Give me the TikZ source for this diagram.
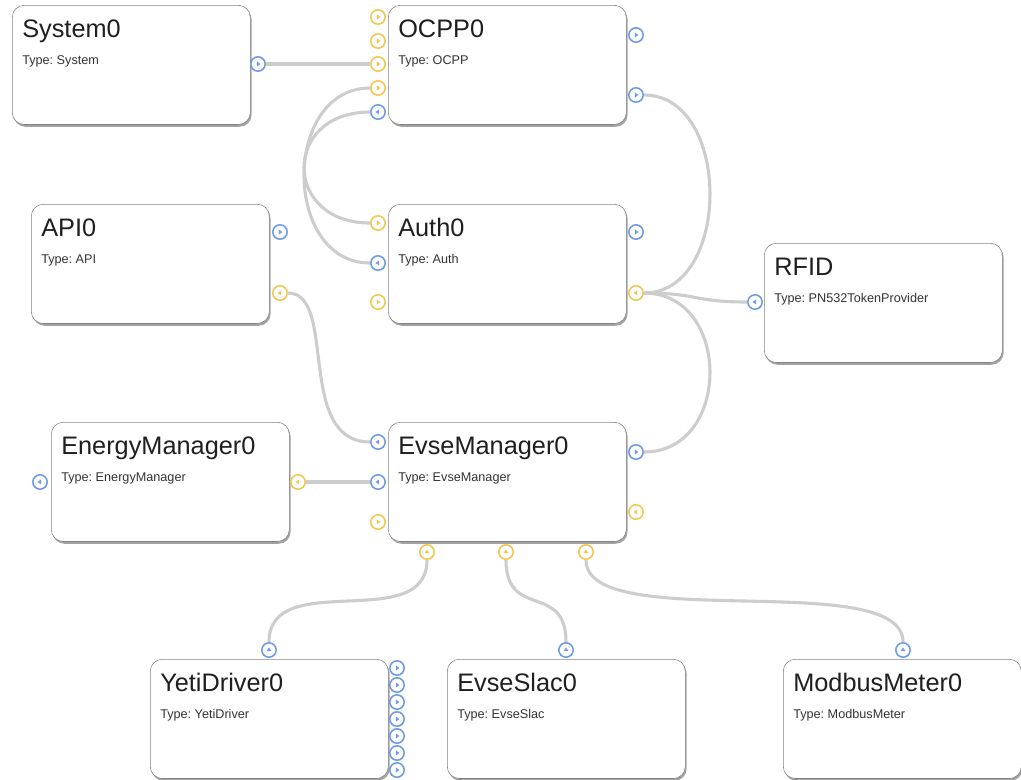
\documentclass[tikz,border=0pt]{standalone}
\usepackage{fontspec}
\setmainfont{Liberation Sans}
\usepackage{tikz}
\usetikzlibrary{shadows}
\frenchspacing

\definecolor{portblue}{RGB}{110,155,230}
\definecolor{portyellow}{RGB}{240,200,80}
\definecolor{wiregray}{RGB}{205,205,205}
\definecolor{boxgray}{RGB}{130,130,130}

\tikzset{
  modbox/.style={draw=boxgray, fill=white, rounded corners=0.3cm, anchor=north west,
    minimum width=5.95cm, minimum height=2.98cm, inner sep=0pt,
    drop shadow={shadow xshift=0.9pt, shadow yshift=-1.6pt, opacity=0.45, fill=black!80}},
  title/.style={anchor=base west, inner sep=0pt, text=black!88, font=\fontsize{18}{20}\selectfont},
  typetext/.style={anchor=base west, inner sep=0pt, text=black!80, font=\fontsize{9}{11}\selectfont},
  port/.style={circle, draw=#1, fill=white, line width=1.1pt, minimum size=0.36cm, inner sep=0pt},
  portR/.style={port=#1, path picture={\fill[#1] ([xshift=-0.8pt,yshift=1.8pt]path picture bounding box.center) -- ++(2.5pt,-1.8pt) -- ++(-2.5pt,-1.8pt) -- cycle;}},
  portL/.style={port=#1, path picture={\fill[#1] ([xshift=0.8pt,yshift=1.8pt]path picture bounding box.center) -- ++(-2.5pt,-1.8pt) -- ++(2.5pt,-1.8pt) -- cycle;}},
  portU/.style={port=#1, path picture={\fill[#1] ([xshift=-1.8pt,yshift=-0.8pt]path picture bounding box.center) -- ++(1.8pt,2.5pt) -- ++(1.8pt,-2.5pt) -- cycle;}},
  wire/.style={draw=wiregray, line width=2.2pt}
}

\begin{document}
\begin{tikzpicture}[x=0.025cm, y=-0.025cm]
\useasboundingbox[fill=white] (0,0) rectangle (1021,779);

% modules
\node[modbox] (sys) at (12,5) {};
\node[title] at ([shift={(10,32)}]sys.north west) {System0};
\node[typetext] at ([shift={(10,59)}]sys.north west) {Type: System};

\node[modbox] (ocpp) at (388,5) {};
\node[title] at ([shift={(10,32)}]ocpp.north west) {OCPP0};
\node[typetext] at ([shift={(10,59)}]ocpp.north west) {Type: OCPP};

\node[modbox] (api) at (31,204) {};
\node[title] at ([shift={(10,32)}]api.north west) {API0};
\node[typetext] at ([shift={(10,59)}]api.north west) {Type: API};

\node[modbox] (auth) at (388,204) {};
\node[title] at ([shift={(10,32)}]auth.north west) {Auth0};
\node[typetext] at ([shift={(10,59)}]auth.north west) {Type: Auth};

\node[modbox] (rfid) at (764,243) {};
\node[title] at ([shift={(10,32)}]rfid.north west) {RFID};
\node[typetext] at ([shift={(10,59)}]rfid.north west) {Type: PN532TokenProvider};

\node[modbox] (energy) at (51,422) {};
\node[title] at ([shift={(10,32)}]energy.north west) {EnergyManager0};
\node[typetext] at ([shift={(10,59)}]energy.north west) {Type: EnergyManager};

\node[modbox] (evse) at (388,422) {};
\node[title] at ([shift={(10,32)}]evse.north west) {EvseManager0};
\node[typetext] at ([shift={(10,59)}]evse.north west) {Type: EvseManager};

\node[modbox] (yeti) at (150,659) {};
\node[title] at ([shift={(10,32)}]yeti.north west) {YetiDriver0};
\node[typetext] at ([shift={(10,59)}]yeti.north west) {Type: YetiDriver};

\node[modbox] (slac) at (447,659) {};
\node[title] at ([shift={(10,32)}]slac.north west) {EvseSlac0};
\node[typetext] at ([shift={(10,59)}]slac.north west) {Type: EvseSlac};

\node[modbox] (modbus) at (783,659) {};
\node[title] at ([shift={(10,32)}]modbus.north west) {ModbusMeter0};
\node[typetext] at ([shift={(10,59)}]modbus.north west) {Type: ModbusMeter};

% ports
\node[portR=portblue] (sysOut) at (258,64) {};

\node[portR=portyellow] (ocppA) at (378,17) {};
\node[portR=portyellow] (ocppB) at (378,41) {};
\node[portR=portyellow] (ocppC) at (378,64) {};
\node[portR=portyellow] (ocppD) at (378,88) {};
\node[portL=portblue] (ocppE) at (378,112) {};
\node[portR=portblue] (ocppF) at (636,35) {};
\node[portR=portblue] (ocppG) at (636,95) {};

\node[portR=portblue] (apiA) at (280,232) {};
\node[portL=portyellow] (apiB) at (280,293) {};

\node[portR=portyellow] (authA) at (378,223) {};
\node[portL=portblue] (authB) at (378,263) {};
\node[portR=portyellow] (authC) at (378,302) {};
\node[portR=portblue] (authD) at (636,232) {};
\node[portL=portyellow] (authE) at (636,293) {};

\node[portL=portblue] (rfidIn) at (755,302) {};

\node[portL=portblue] (energyA) at (40,482) {};
\node[portL=portyellow] (energyB) at (298,482) {};

\node[portL=portblue] (evseA) at (378,442) {};
\node[portL=portblue] (evseB) at (378,482) {};
\node[portR=portyellow] (evseC) at (378,522) {};
\node[portR=portblue] (evseD) at (636,452) {};
\node[portL=portyellow] (evseE) at (636,512) {};
\node[portU=portyellow] (evseF) at (427,552) {};
\node[portU=portyellow] (evseG) at (506,552) {};
\node[portU=portyellow] (evseH) at (586,552) {};

\node[portU=portblue] (yetiIn) at (269,650) {};
\foreach \i in {1,...,7}
  \node[portR=portblue] (yetiP\i) at (397,651+17*\i) {};
\node[portU=portblue] (slacIn) at (566,650) {};
\node[portU=portblue] (modbusIn) at (903,650) {};

% connections
\draw[wire] (sysOut.east) -- (ocppC.west);
\draw[wire] (ocppD.west) .. controls +(-88,0) and +(-88,0) .. (authB.west);
\draw[wire] (ocppE.west) .. controls +(-88,0) and +(-88,0) .. (authA.west);
\draw[wire] (ocppG.east) .. controls +(88,0) and +(88,0) .. (authE.east);
\draw[wire] (authE.east) .. controls +(88,0) and +(88,0) .. (evseD.east);
\draw[wire] (authE.east) .. controls +(55,0) and +(-55,0) .. (rfidIn.west);
\draw[wire] (apiB.east) .. controls +(50,0) and +(-75,0) .. (evseA.west);
\draw[wire] (energyB.east) -- (evseB.west);
\draw[wire] (evseF.south) .. controls +(0,75) and +(0,-75) .. (yetiIn.north);
\draw[wire] (evseG.south) .. controls +(0,60) and +(0,-60) .. (slacIn.north);
\draw[wire] (evseH.south) .. controls +(0,75) and +(0,-75) .. (modbusIn.north);
\end{tikzpicture}
\end{document}
